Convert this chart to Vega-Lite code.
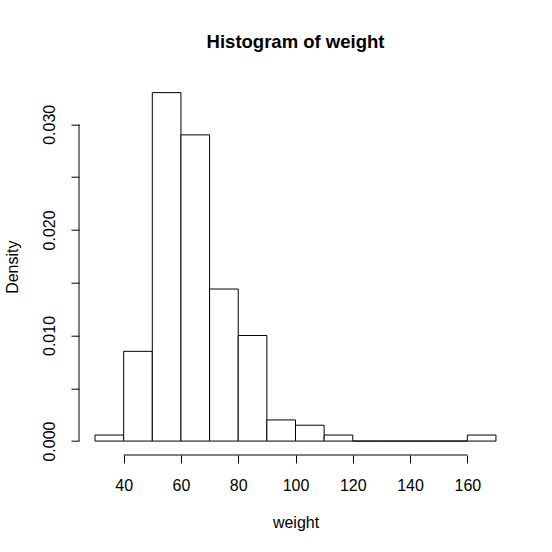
{
  "$schema": "https://vega.github.io/schema/vega-lite/v6.json",
  "autosize": {"type": "none"},
  "padding": {"left": 79, "top": 78.7, "right": 40, "bottom": 97},
  "width": 433,
  "height": 376.3,
  "background": "white",
  "config": {
    "font": "Liberation Sans",
    "view": {"stroke": null},
    "axis": {
      "domain": false,
      "grid": false,
      "ticks": true,
      "tickColor": "black",
      "tickWidth": 1,
      "tickSize": 8,
      "labelColor": "black",
      "labelFont": "Liberation Sans",
      "labelFontSize": 16,
      "titleFont": "Liberation Sans",
      "titleFontSize": 16,
      "titleFontWeight": "normal",
      "titleColor": "black",
      "labelFlush": false,
      "labelOverlap": false,
      "labelBound": false
    }
  },
  "title": {
    "text": "Histogram of weight",
    "font": "Liberation Sans",
    "fontSize": 18.5,
    "fontWeight": "bold",
    "color": "black",
    "anchor": "middle",
    "frame": "group",
    "baseline": "alphabetic",
    "offset": 12.5
  },
  "layer": [
    {
      "data": {
        "values": [
          {"bin_start": 30, "bin_end": 40, "density": 0.00057},
          {"bin_start": 40, "bin_end": 50, "density": 0.0085},
          {"bin_start": 50, "bin_end": 60, "density": 0.0330},
          {"bin_start": 60, "bin_end": 70, "density": 0.0290},
          {"bin_start": 70, "bin_end": 80, "density": 0.0144},
          {"bin_start": 80, "bin_end": 90, "density": 0.0100},
          {"bin_start": 90, "bin_end": 100, "density": 0.0020},
          {"bin_start": 100, "bin_end": 110, "density": 0.0015},
          {"bin_start": 110, "bin_end": 120, "density": 0.00057},
          {"bin_start": 120, "bin_end": 130, "density": 0},
          {"bin_start": 130, "bin_end": 140, "density": 0},
          {"bin_start": 140, "bin_end": 150, "density": 0},
          {"bin_start": 150, "bin_end": 160, "density": 0},
          {"bin_start": 160, "bin_end": 170, "density": 0.00057}
        ]
      },
      "mark": {"type": "rect", "fill": "white", "stroke": "black", "strokeWidth": 1},
      "encoding": {
        "x": {
          "field": "bin_start",
          "type": "quantitative",
          "scale": {"domain": [24.4, 175.6], "nice": false, "zero": false},
          "axis": {
            "values": [40, 60, 80, 100, 120, 140, 160],
            "title": "weight",
            "labelBaseline": "alphabetic",
            "labelPadding": 27,
            "titleBaseline": "alphabetic",
            "titleY": 72
          }
        },
        "x2": {"field": "bin_end"},
        "y": {
          "field": "density",
          "type": "quantitative",
          "scale": {"domain": [-0.00132, 0.03432], "nice": false, "zero": false},
          "axis": {
            "values": [0, 0.005, 0.01, 0.015, 0.02, 0.025, 0.03],
            "labelExpr": "round(datum.value*1000) % 10 == 0 ? format(datum.value, '.3f') : ''",
            "title": "Density",
            "labelAngle": -90,
            "labelAlign": "center",
            "labelBaseline": "alphabetic",
            "labelPadding": 17,
            "titleBaseline": "alphabetic",
            "titleAngle": -90,
            "titleX": -61.5,
            "titleY": 188
          }
        },
        "y2": {"datum": 0}
      }
    },
    {
      "data": {"values": [{}]},
      "mark": {"type": "rule", "color": "black", "strokeWidth": 1},
      "encoding": {
        "x": {"datum": 40, "type": "quantitative"},
        "x2": {"datum": 160},
        "y": {"datum": -0.00132, "type": "quantitative"}
      }
    },
    {
      "data": {"values": [{}]},
      "mark": {"type": "rule", "color": "black", "strokeWidth": 1},
      "encoding": {
        "x": {"datum": 24.4, "type": "quantitative"},
        "y": {"datum": 0, "type": "quantitative"},
        "y2": {"datum": 0.03}
      }
    }
  ]
}
